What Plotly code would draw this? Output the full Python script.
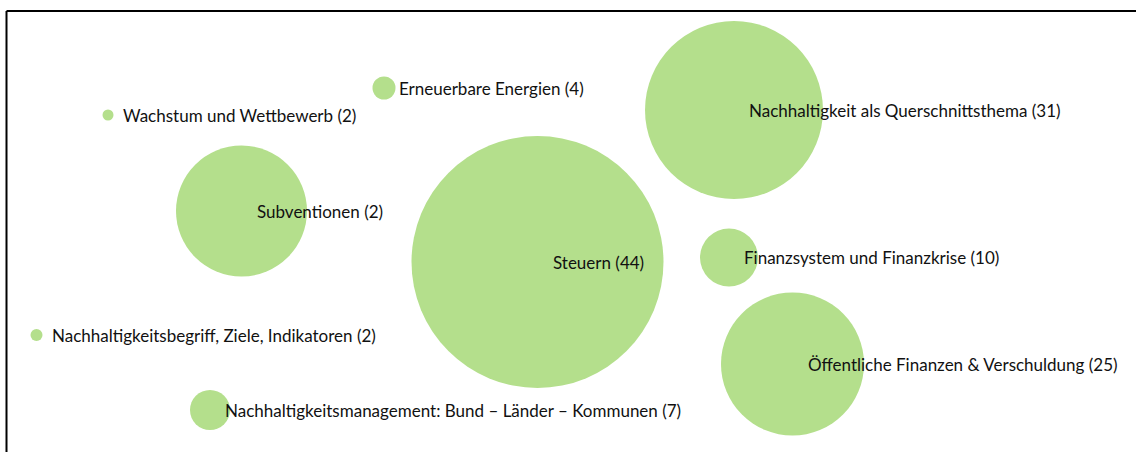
import plotly.graph_objects as go

# ---- data ----
topics = [
    "Wachstum und Wettbewerb",
    "Erneuerbare Energien",
    "Nachhaltigkeit als Querschnittsthema",
    "Subventionen",
    "Steuern",
    "Finanzsystem und Finanzkrise",
    "Nachhaltigkeitsbegriff, Ziele, Indikatoren",
    "Nachhaltigkeitsmanagement: Bund – Länder – Kommunen",
    "Öffentliche Finanzen & Verschuldung",
]
counts = [2, 4, 31, 2, 44, 10, 2, 7, 25]
pos_x = [108, 384, 734, 241.5, 537.5, 729, 36.5, 210, 792.5]
pos_y = [115, 88, 110, 211, 262, 257.5, 335, 410, 364]
bubble_diam = [11, 23, 178, 131, 252, 58, 12, 40, 143]

W, H = 1136, 452
BUBBLE = "#b4df8c"

labels = [t + " (%d)" % c for t, c in zip(topics, counts)]

fig = go.Figure()
fig.add_trace(go.Scatter(
    x=pos_x, y=pos_y, mode="markers",
    marker=dict(size=bubble_diam, sizemode="diameter", color=BUBBLE,
                line=dict(width=0), opacity=1),
    hoverinfo="text", hovertext=labels, showlegend=False,
))

for x, y, lab in zip(pos_x, pos_y, labels):
    fig.add_annotation(x=x, y=y, text=lab, showarrow=False, xanchor="left",
                       yanchor="middle", xshift=13,
                       font=dict(family="Lato, Roboto, sans-serif", size=17,
                                 color="#111111"))

# frame lines (top and left)
fig.add_shape(type="line", xref="paper", yref="paper",
              x0=6.5 / W, x1=1, y0=1 - 11 / H, y1=1 - 11 / H,
              line=dict(color="black", width=2))
fig.add_shape(type="line", xref="paper", yref="paper",
              x0=6.5 / W, x1=6.5 / W, y0=0, y1=1 - 11 / H,
              line=dict(color="black", width=2))

fig.update_xaxes(range=[0, W], visible=False, showgrid=False, zeroline=False)
fig.update_yaxes(range=[H, 0], visible=False, showgrid=False, zeroline=False)
fig.update_layout(width=W, height=H, margin=dict(l=0, r=0, t=0, b=0),
                  paper_bgcolor="white", plot_bgcolor="white")

fig.write_html("out.html", config={"displayModeBar": False},
               post_script="document.body.style.margin='0';document.body.style.overflow='hidden';")
